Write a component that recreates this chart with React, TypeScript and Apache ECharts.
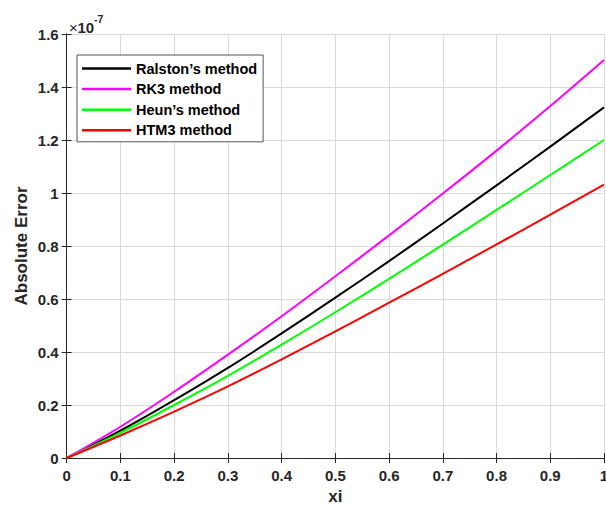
import React, { useEffect, useRef } from "react";
import * as echarts from "echarts";

const xValues = [0, 0.1, 0.2, 0.3, 0.4, 0.5, 0.6, 0.7, 0.8, 0.9, 1.0];
// values in units of 1e-7
const ralston = [0, 0.103, 0.218, 0.34, 0.47, 0.605, 0.743, 0.885, 1.029, 1.175, 1.323];
const rk3 = [0, 0.118, 0.25, 0.39, 0.535, 0.686, 0.84, 0.998, 1.16, 1.328, 1.502];
const heun = [0, 0.095, 0.2, 0.31, 0.428, 0.55, 0.676, 0.805, 0.936, 1.068, 1.2];
const htm3 = [0, 0.085, 0.175, 0.27, 0.372, 0.478, 0.586, 0.695, 0.806, 0.918, 1.032];
const seriesNames = ["Ralston\u2019s method", "RK3 method", "Heun\u2019s method", "HTM3 method"];
const seriesColors = ["#000000", "#ff00ff", "#00ff00", "#ff0000"];
const seriesValues = [ralston, rk3, heun, htm3];

const FONT = "'Liberation Sans', Arial, Helvetica, sans-serif";
const TXT = "#262626";

export default function App() {
  const ref = useRef<HTMLDivElement>(null);
  useEffect(() => {
    if (!ref.current) return;
    const chart = echarts.init(ref.current, undefined, { renderer: "svg" });
    const fmt = (v: number) => String(parseFloat(v.toFixed(2)));
    const grid = { left: 66.7, top: 34, right: 2, bottom: 51, containLabel: false, outerBoundsMode: "none" };
    const axisLine = { show: true, lineStyle: { color: TXT, width: 1 } };
    const tick = { show: true, inside: true, length: 5, lineStyle: { color: TXT, width: 1 } };
    const gridLine = { show: true, lineStyle: { color: "#dadada", width: 1 } };
    chart.setOption({
      animation: false,
      textStyle: { fontFamily: FONT },
      grid,
      legend: {
        orient: "vertical",
        left: 77,
        top: 55,
        data: seriesNames.map((n) => ({ name: n, icon: "rect" })),
        itemWidth: 49,
        itemHeight: 2.5,
        itemGap: 5.6,
        padding: [6, 6, 4, 5],
        borderColor: "#555555",
        borderWidth: 1,
        backgroundColor: "#ffffff",
        textStyle: { fontFamily: FONT, fontSize: 14.5, lineHeight: 14, fontWeight: "bold", color: "#000" },
      },
      xAxis: [
        {
          type: "value",
          min: 0,
          max: 1,
          interval: 0.1,
          name: "xi",
          nameLocation: "middle",
          nameGap: 28,
          nameTextStyle: { fontFamily: FONT, fontSize: 17, fontWeight: "bold", color: TXT },
          axisLine,
          axisTick: tick,
          axisLabel: { formatter: fmt, fontFamily: FONT, fontSize: 15, fontWeight: "bold", color: TXT, margin: 10 },
          splitLine: gridLine,
        },
        {
          type: "value",
          position: "top",
          min: 0,
          max: 1,
          interval: 0.1,
          axisLine,
          axisTick: tick,
          axisLabel: { show: false },
          splitLine: { show: false },
        },
      ],
      yAxis: [
        {
          type: "value",
          min: 0,
          max: 1.6,
          interval: 0.2,
          name: "Absolute Error",
          nameLocation: "middle",
          nameGap: 37,
          nameMoveOverlap: false,
          nameTextStyle: { fontFamily: FONT, fontSize: 17, fontWeight: "bold", color: TXT },
          axisLine,
          axisTick: tick,
          axisLabel: { formatter: fmt, fontFamily: FONT, fontSize: 15, fontWeight: "bold", color: TXT, margin: 8 },
          splitLine: gridLine,
        },
        {
          type: "value",
          position: "right",
          min: 0,
          max: 1.6,
          interval: 0.2,
          axisLine,
          axisTick: tick,
          axisLabel: { show: false },
          splitLine: { show: false },
        },
      ],
      graphic: [
        {
          type: "text",
          x: 69,
          y: 27.7,
          style: {
            text: "\u00d7",
            align: "left",
            verticalAlign: "middle",
            fontFamily: FONT,
            fontSize: 15,
            fill: TXT,
          },
        },
        {
          type: "text",
          x: 77.5,
          y: 27.7,
          style: {
            text: "10",
            align: "left",
            verticalAlign: "middle",
            fontFamily: FONT,
            fontSize: 15,
            fontWeight: "bold",
            fill: TXT,
          },
        },
        {
          type: "text",
          x: 94,
          y: 19,
          style: {
            text: "-7",
            align: "left",
            verticalAlign: "middle",
            fontFamily: FONT,
            fontSize: 10.5,
            fontWeight: "bold",
            fill: TXT,
          },
        },
      ],
      series: seriesNames.map((name, i) => ({
        name,
        type: "line",
        symbol: "none",
        showSymbol: false,
        smooth: 0.3,
        data: xValues.map((x, j) => [x, seriesValues[i][j]]),
        lineStyle: { color: seriesColors[i], width: 2 },
        itemStyle: { color: seriesColors[i] },
        z: 3,
      })),
    });
    return () => chart.dispose();
  }, []);
  return (
    <div
      ref={ref}
      style={{ position: "absolute", left: 0, top: 0, width: 606, height: 509, background: "#fff" }}
    />
  );
}
